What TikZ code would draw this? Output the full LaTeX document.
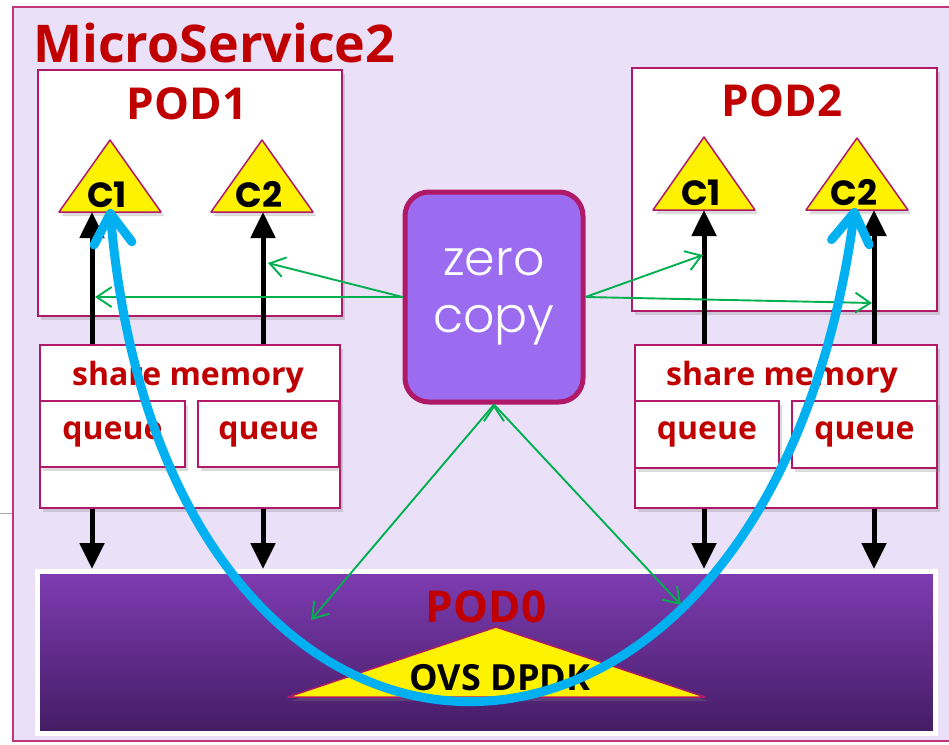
\documentclass[tikz,border=0pt]{standalone}
\usepackage{fontspec}
\setmainfont{Open Sans}
\newfontfamily\gothic{Poppins}
\IfFontExistsTF{Poppins Light}{\newfontfamily\gothicthin{Poppins Light}}{\newfontfamily\gothicthin{Poppins}}
\usetikzlibrary{arrows.meta,positioning,shadows,calc}

\definecolor{msbg}{RGB}{234,225,249}
\definecolor{msline}{RGB}{196,52,120}
\definecolor{podline}{RGB}{176,24,104}
\definecolor{podred}{RGB}{192,0,0}
\definecolor{zcfill}{RGB}{155,108,240}
\definecolor{zcgreen}{RGB}{0,176,80}
\definecolor{hopblue}{RGB}{0,176,240}
\definecolor{dpdktop}{RGB}{126,60,178}
\definecolor{dpdkmid}{RGB}{108,50,156}
\definecolor{dpdkbot}{RGB}{68,28,100}

\begin{document}
\begin{tikzpicture}[x=1pt,y=-1pt,>={Triangle[length=26pt,width=24pt]},semithick]
  \tikzstyle{box}=[draw=podline,line width=1.5pt,fill=white,inner sep=0pt,
                   drop shadow={shadow xshift=3pt,shadow yshift=-4pt,opacity=0.28}]
  \tikzstyle{tri}=[draw=podline,line width=1.5pt,fill=yellow,line join=round,
                   drop shadow={shadow xshift=3pt,shadow yshift=-4pt,opacity=0.28}]
  \tikzstyle{redtext}=[text=podred,inner sep=0pt,font=\bfseries\fontsize{44}{48}\selectfont]
  \tikzstyle{smalltext}=[text=podred,inner sep=0pt,font=\bfseries\fontsize{32}{36}\selectfont]
  \tikzstyle{ctext}=[inner sep=0pt,font=\gothic\bfseries\fontsize{35}{38}\selectfont]
  \tikzstyle{feed}=[->,line width=5pt]
  \tikzstyle{copyline}=[-{Straight Barb[length=15pt,width=20pt]},draw=zcgreen,line width=1.9pt]
  \tikzstyle{hop}=[{Straight Barb[length=30pt,width=38pt,round]}-{Straight Barb[length=30pt,width=38pt,round]},
                   draw=hopblue,line width=9pt,line cap=round]

  \useasboundingbox (0,0) rectangle (949,744);
  \draw[gray!70,line width=0.8pt] (0,513) -- (13,513);

  % service frame
  \node[draw=msline,fill=msbg,line width=2pt,minimum width=950pt,minimum height=734pt] (ms) at (488,374) {};
  \node[anchor=base west,text=podred,inner sep=0pt,font=\bfseries\fontsize{52}{56}\selectfont] (mstitle) at (33,62) {MicroService2};

  % pods
  \node[box,minimum width=304pt,minimum height=246pt] (pod1) at (190,193) {};
  \node[box,minimum width=305pt,minimum height=243pt] (pod2) at (784.5,189.5) {};
  \node[redtext,anchor=base] (pod1lbl) at (187,119) {POD1};
  \node[redtext,anchor=base] (pod2lbl) at (782,116) {POD2};

  % containers
  \foreach \cx/\top/\bot/\dx/\nm/\txt in {110/140/212/-18/p1c1/C1, 262/140/212/1/p1c2/C2,
                                          704/137/210/0/p2c1/C1, 857/138/210/17/p2c2/C2}{
    \draw[tri] (\cx-51,\bot) -- (\cx,\top) -- (\cx+51,\bot) -- cycle;
    \node[ctext,anchor=base] (\nm) at (\cx-3,\bot-5) {\txt};
    \coordinate (\nm-in) at (\cx+\dx,\bot);
  }

  % share memory with queues
  \node[box,minimum width=300pt,minimum height=163pt] (sm1) at (190,426.5) {};
  \node[box,minimum width=302pt,minimum height=163pt] (sm2) at (786,426.5) {};
  \node[smalltext,anchor=base] (sm1lbl) at (188,385) {share memory};
  \node[smalltext,anchor=base] (sm2lbl) at (782,385) {share memory};
  \node[box,smalltext,minimum width=145pt,minimum height=66pt] (q11) at (112.5,434) {queue};
  \node[box,smalltext,minimum width=141pt,minimum height=66pt] (q12) at (268.5,434) {queue};
  \node[box,smalltext,minimum width=144pt,minimum height=67pt] (q21) at (707,434.5) {queue};
  \node[box,smalltext,minimum width=145pt,minimum height=67pt] (q22) at (864.5,434.5) {queue};

  % pod0 with the switch
  \node[draw=white,line width=5pt,top color=dpdktop,middle color=dpdkmid,bottom color=dpdkbot,
        minimum width=898pt,minimum height=161.5pt] (pod0) at (486.5,652.25) {};
  \node[redtext,anchor=base] (pod0lbl) at (486,622) {POD0};
  \draw[tri] (288,697) -- (496,627) -- (705,697) -- cycle;
  \node[anchor=base,inner sep=0pt,font=\bfseries\fontsize{36}{40}\selectfont] (ovs) at (500,690) {OVS DPDK};

  % zero copy
  \node[draw=podline,line width=5pt,fill=zcfill,rounded corners=24pt,minimum width=178pt,minimum height=210pt,
        text=white,align=center,font=\gothicthin\fontsize{49}{57}\selectfont] (zc) at (494,297) {zero\\copy};

  % data paths
  \foreach \nm/\sm in {p1c1/sm1, p1c2/sm1, p2c1/sm2, p2c2/sm2}{
    \draw[feed] (\nm-in |- \sm.north) -- (\nm-in);
    \draw[feed] (\nm-in |- \sm.south) -- (\nm-in |- pod0.north);
  }

  \coordinate (g1) at (95,297);
  \coordinate (g2) at (268,263);
  \coordinate (g3) at (703,255);
  \coordinate (g4) at (872,303);
  \coordinate (g5) at (311,620);
  \coordinate (g6) at (681,605);
  \path[copyline] (zc.west) edge (g1) edge (g2)
                  (zc.east) edge (g3) edge (g4)
                  (zc.south) edge (g5) edge (g6);

  \coordinate (hopL) at (110,209);
  \coordinate (hopR) at (855,208);
  \draw[hop] (hopL) .. controls (166,863) and (766,863) .. (hopR);
\end{tikzpicture}
\end{document}
